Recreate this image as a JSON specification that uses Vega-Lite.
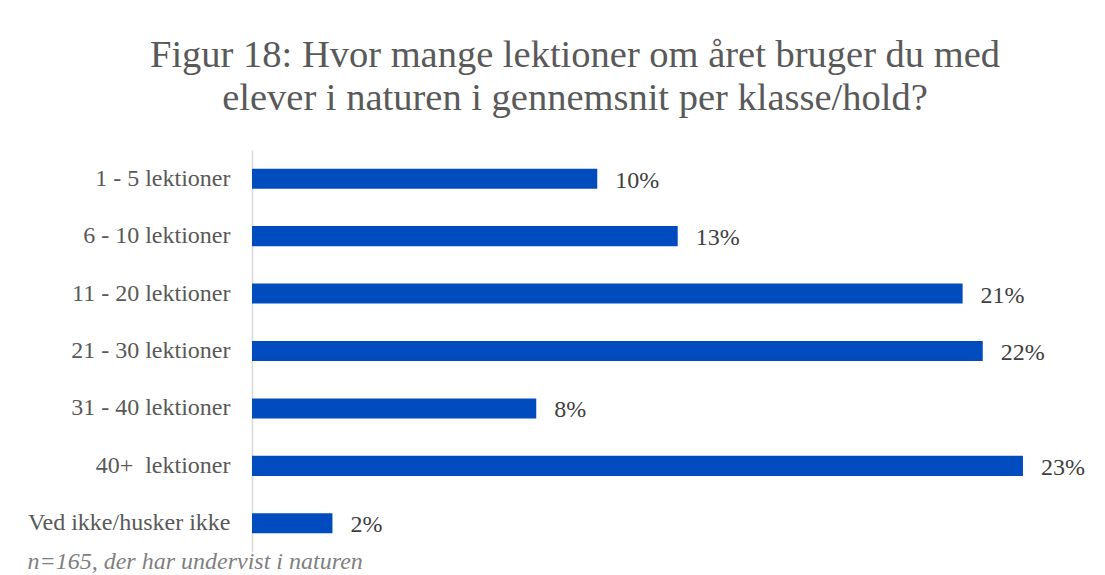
{
  "$schema": "https://vega.github.io/schema/vega-lite/v6.json",
  "autosize": {"type": "none"},
  "width": 838,
  "height": 402,
  "padding": {"left": 252, "top": 150, "right": 15, "bottom": 23},
  "background": "white",
  "title": {
    "text": ["Figur 18: Hvor mange lektioner om året bruger du med", "elever i naturen i gennemsnit per klasse/hold?"],
    "font": "Liberation Serif",
    "fontSize": 38.5,
    "fontWeight": "normal",
    "color": "#595959",
    "lineHeight": 43,
    "anchor": "middle",
    "frame": "group",
    "dx": -96,
    "offset": 32
  },
  "data": {
    "values": [
      {"kategori": "1 - 5 lektioner", "andel": 0.103},
      {"kategori": "6 - 10 lektioner", "andel": 0.127},
      {"kategori": "11 - 20 lektioner", "andel": 0.212},
      {"kategori": "21 - 30 lektioner", "andel": 0.218},
      {"kategori": "31 - 40 lektioner", "andel": 0.0848},
      {"kategori": "40+\u00a0 lektioner", "andel": 0.230},
      {"kategori": "Ved ikke/husker ikke", "andel": 0.024}
    ]
  },
  "encoding": {
    "y": {
      "field": "kategori",
      "type": "nominal",
      "sort": null,
      "scale": {"paddingInner": 0.65, "paddingOuter": 0.325},
      "axis": {
        "title": null,
        "domain": true,
        "domainColor": "#d9d9d9",
        "domainWidth": 1.5,
        "ticks": false,
        "labelPadding": 22,
        "labelFont": "Liberation Serif",
        "labelFontSize": 24,
        "labelColor": "#595959",
        "labelLimit": 400
      }
    },
    "x": {
      "field": "andel",
      "type": "quantitative",
      "scale": {"domain": [0, 0.25]},
      "axis": {
        "grid": false,
        "domain": false,
        "ticks": false,
        "labels": false,
        "title": "n=165, der har undervist i naturen",
        "titleAnchor": "start",
        "titleX": -225,
        "titleY": 16,
        "titleBaseline": "alphabetic",
        "titleFont": "Liberation Serif",
        "titleFontSize": 24,
        "titleFontStyle": "italic",
        "titleFontWeight": "normal",
        "titleColor": "#7f7f7f"
      }
    }
  },
  "layer": [
    {"mark": {"type": "bar", "color": "#004CBF"}},
    {
      "mark": {"type": "text", "align": "left", "baseline": "middle", "dx": 18, "dy": 2, "font": "Liberation Serif", "fontSize": 24, "color": "#404040"},
      "encoding": {"text": {"field": "andel", "type": "quantitative", "format": ".0%"}}
    }
  ],
  "config": {"view": {"stroke": null}}
}
